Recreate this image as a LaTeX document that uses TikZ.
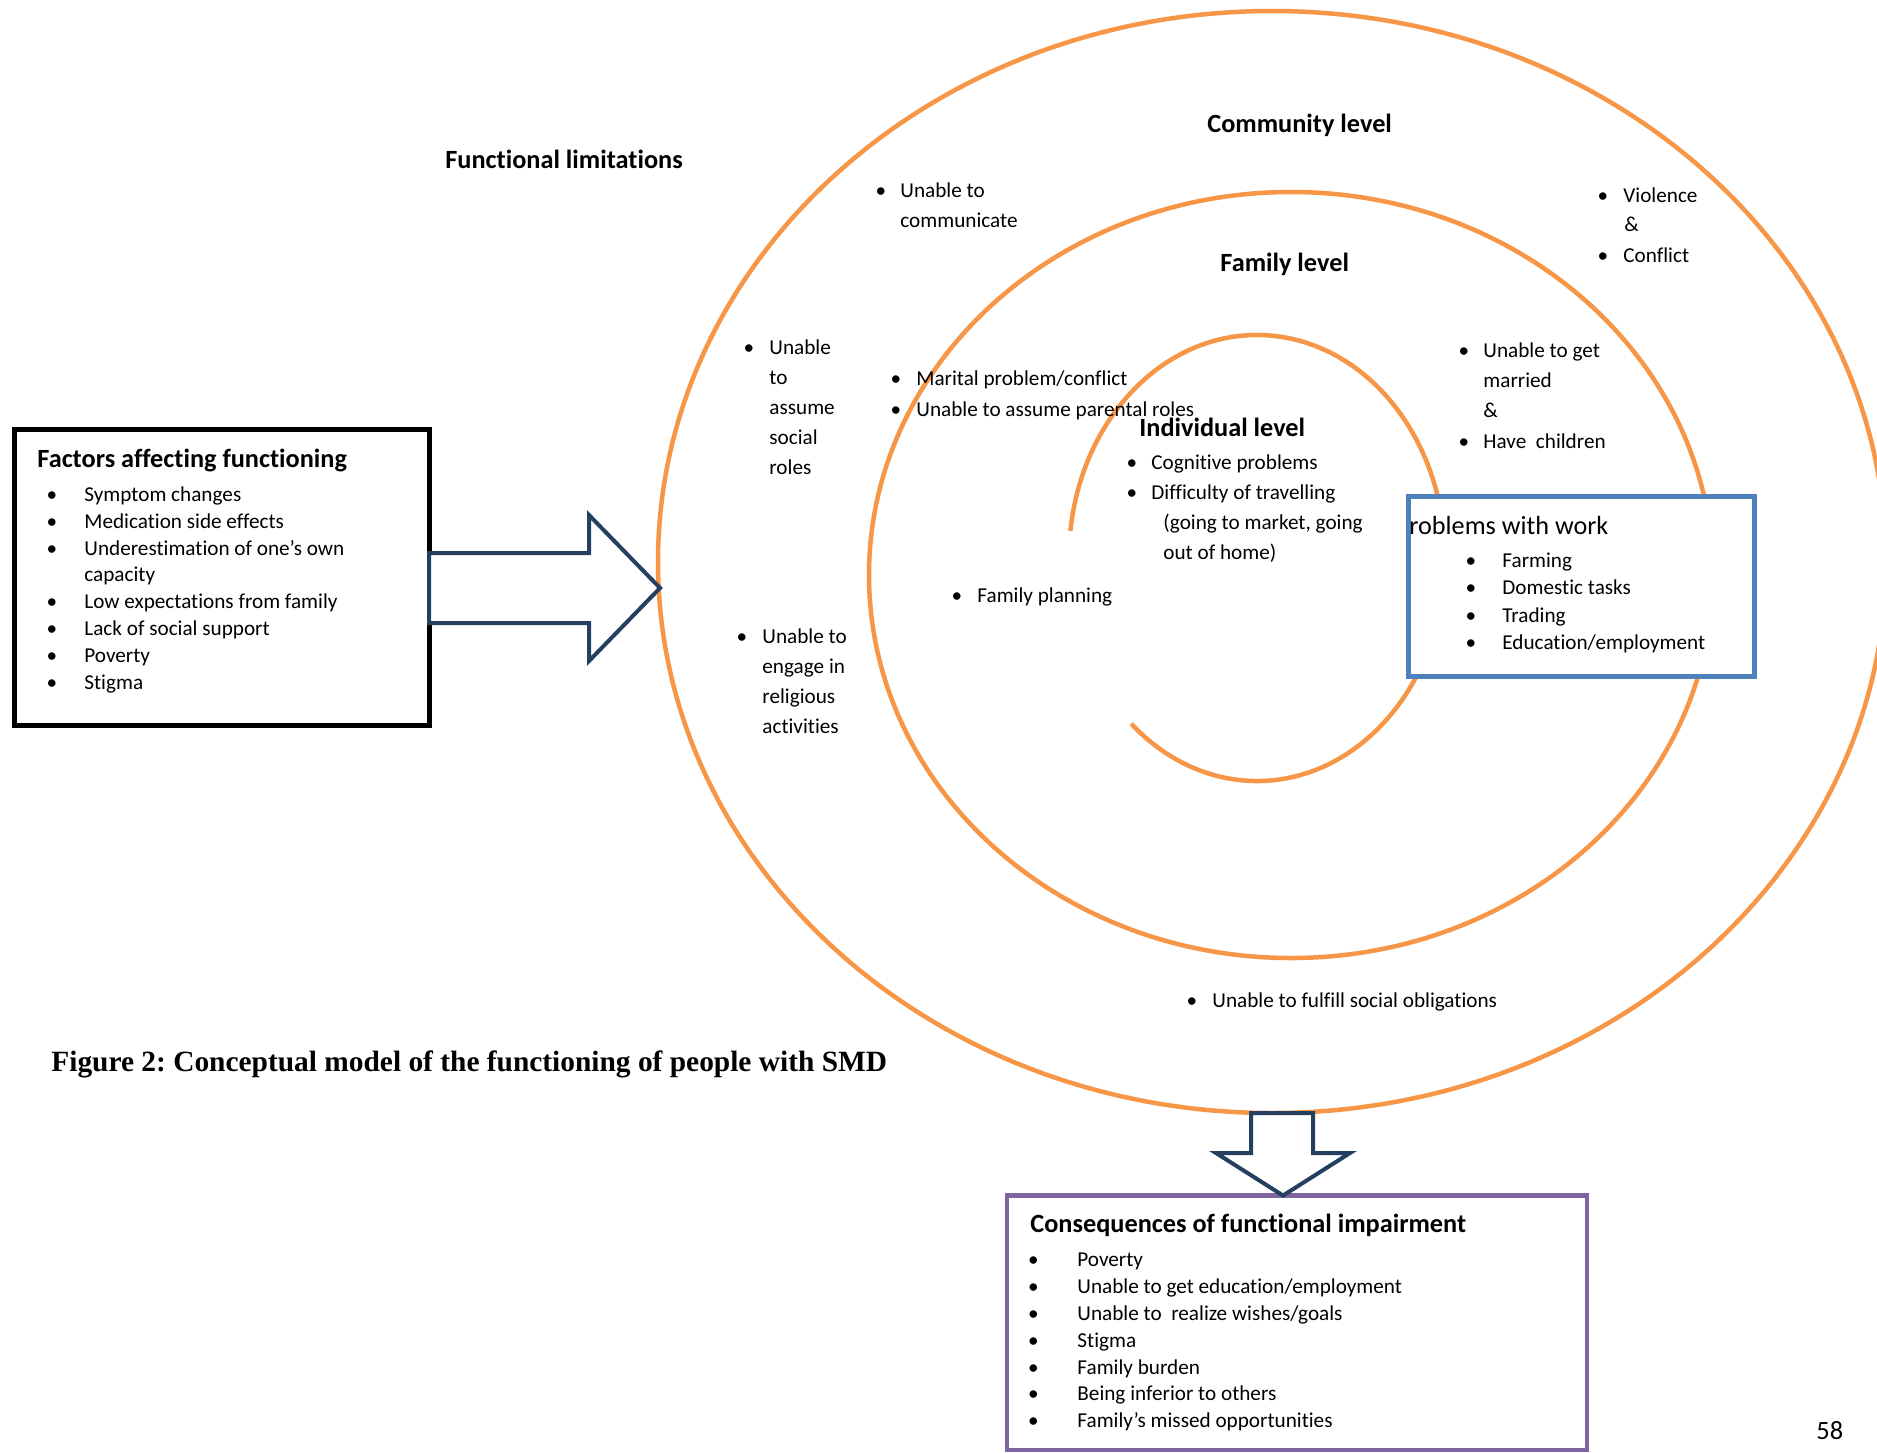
\documentclass[tikz,border=0pt]{standalone}
\usepackage{fontspec}
\setmainfont{Carlito}[Ligatures=NoCommon]
\newfontfamily\capfont{Liberation Serif}
\definecolor{orng}{HTML}{F79646}
\definecolor{navy}{HTML}{243F60}
\definecolor{stblue}{HTML}{4F81BD}
\definecolor{purp}{HTML}{8064A2}
\newcommand\bodyfs{\fontsize{10.6pt}{12.5pt}\selectfont}
\newcommand\headfs{\fontsize{13.15pt}{15pt}\selectfont\bfseries}
\frenchspacing
\begin{document}
\begin{tikzpicture}[x=0.5pt,y=0.5pt,
  tx/.style={anchor=base west,inner sep=0pt,font=\bodyfs},
  bu/.style={anchor=base,inner sep=0pt,font=\bodyfs},
  hd/.style={anchor=base west,inner sep=0pt,font=\headfs},
  ring/.style={draw=orng,line width=2.25pt},
  blockarrow/.style={draw=navy,line width=2pt,fill=white,line join=miter},
  boxframe/.style={inner sep=0pt,outer sep=0pt,fill=white,line width=2.5pt}]
\useasboundingbox (0,0) rectangle (1877,-1452);
\fill[white] (0,0) rectangle (1877,-1452);

% rings
\draw[ring] (1272,-562) ellipse [x radius=614, y radius=551];
\draw[ring] (1291,-575) ellipse [x radius=422, y radius=383];
\draw[ring] (1257,-558) ++(173:188 and 223) arc[start angle=173, end angle=-132, x radius=188, y radius=223];

% boxes
\node[boxframe,draw=black,minimum width=207.5pt,minimum height=148.25pt] (factors) at (221.5,-577.25) {};
\node[boxframe,draw=stblue,minimum width=173pt,minimum height=89.75pt] (work) at (1581,-586.25) {};
\node[boxframe,draw=purp,line width=2.25pt,minimum width=290pt,minimum height=127.25pt] (conseq) at (1297,-1322.75) {};

% block arrows
\coordinate (ringW) at (660,-588);
\coordinate (ringS) at (1282,-1113);
\draw[blockarrow] (factors.east |- 0,-553) -- (589,-553) -- (589,-515) -- (ringW) -- (589,-661) -- (589,-623) -- (factors.east |- 0,-623) -- cycle;
\draw[blockarrow] (1251,-1113) -- (1313,-1113) -- (1313,-1153) -- (1350,-1153) -- (conseq.north -| 1283,0) -- (1216,-1153) -- (1251,-1153) -- cycle;

% Factors box text
\node[hd] (fh) at (37,-467) {Factors affecting functioning};
\foreach \i/\y/\t in {1/501/{Symptom changes},2/528/{Medication side effects},3/555/{Underestimation of one’s own},5/608/{Low expectations from family},6/635/{Lack of social support},7/662/{Poverty},8/689/{Stigma}}{
  \node[bu] (fb\i) at (52,-\y) {\textbullet};
  \node[tx] (ft\i) at (84,-\y) {\t};
}
\node[tx] (ft4) at (84,-581) {capacity};

% Work box text
\node[anchor=base west,inner sep=0pt,font=\fontsize{13.1pt}{15pt}\selectfont] (wh) at (1409,-534) {roblems with work};
\foreach \i/\y/\t in {1/567/{Farming},2/594.5/{Domestic tasks},3/622/{Trading},4/649.5/{Education/employment}}{
  \node[bu] (wb\i) at (1471,-\y) {\textbullet};
  \node[tx] (wt\i) at (1502,-\y) {\t};
}

% Consequences box text
\node[hd] (ch) at (1030,-1232) {Consequences of functional impairment};
\foreach \i/\y/\t in {1/1266/{Poverty},2/1293/{Unable to get education/employment},3/1320/{Unable to\ \ realize wishes/goals},4/1347/{Stigma},5/1374/{Family burden},6/1400/{Being inferior to others},7/1427/{Family’s missed opportunities}}{
  \node[bu] (cb\i) at (1033.5,-\y) {\textbullet};
  \node[tx] (ct\i) at (1077,-\y) {\t};
}

% headings
\node[hd] (fl) at (445,-168) {Functional limitations};
\node[hd] (cl) at (1207,-132) {Community level};
\node[hd] (fml) at (1220,-271) {Family level};
\node[hd] (il) at (1139,-436) {Individual level};

% community items
\node[bu] (cmb1) at (881,-197) {\textbullet};
\node[tx] (cm1) at (900,-197) {Unable to};
\node[tx] (cm2) at (900,-227) {communicate};
\node[bu] (vb1) at (1603,-202) {\textbullet};
\node[tx] (v1) at (1623,-202) {Violence};
\node[tx] (v2) at (1624,-231) {\&};
\node[bu] (vb2) at (1603,-262) {\textbullet};
\node[tx] (v3) at (1623,-262) {Conflict};
\node[bu] (sb1) at (749,-354) {\textbullet};
\foreach \i/\y/\t in {1/354/Unable,2/384/to,3/414/assume,4/444/social,5/474/roles}{
  \node[tx] (s\i) at (769,-\y) {\t};
}
\node[bu] (rb1) at (742,-643) {\textbullet};
\foreach \i/\y/\t in {1/643/{Unable to},2/673/{engage in},3/703/{religious},4/733/{activities}}{
  \node[tx] (r\i) at (762,-\y) {\t};
}
\node[bu] (ob1) at (1192,-1007) {\textbullet};
\node[tx] (o1) at (1212,-1007) {Unable to fulfill social obligations};

% family items
\node[bu] (mb1) at (896,-385) {\textbullet};
\node[tx] (m1) at (916,-385) {Marital problem/conflict};
\node[bu] (mb2) at (896,-416) {\textbullet};
\node[tx] (m2) at (916,-416) {Unable to assume parental roles};
\node[bu] (gb1) at (1464,-357) {\textbullet};
\node[tx] (g1) at (1483,-357) {Unable to get};
\node[tx] (g2) at (1483,-387) {married};
\node[tx] (g3) at (1483,-417) {\&};
\node[bu] (gb2) at (1464,-448) {\textbullet};
\node[tx] (g4) at (1483,-448) {Have\ \ children};
\node[bu] (pb1) at (957,-602) {\textbullet};
\node[tx] (p1) at (977,-602) {Family planning};

% individual items
\node[bu] (ib1) at (1132,-469) {\textbullet};
\node[tx] (i1) at (1151,-469) {Cognitive problems};
\node[bu] (ib2) at (1132,-499) {\textbullet};
\node[tx] (i2) at (1151,-499) {Difficulty of travelling};
\node[tx] (i3) at (1163,-529) {(going to market, going};
\node[tx] (i4) at (1163,-559) {out of home)};

% caption and page number
\node[anchor=base west,inner sep=0pt,font=\capfont\fontsize{14.7pt}{17pt}\selectfont\bfseries] (cap) at (51,-1071) {Figure 2: Conceptual model of the functioning of people with SMD};
\node[anchor=base west,inner sep=0pt,font=\fontsize{13.2pt}{15pt}\selectfont] (pg) at (1816,-1439) {58};
\end{tikzpicture}
\end{document}
